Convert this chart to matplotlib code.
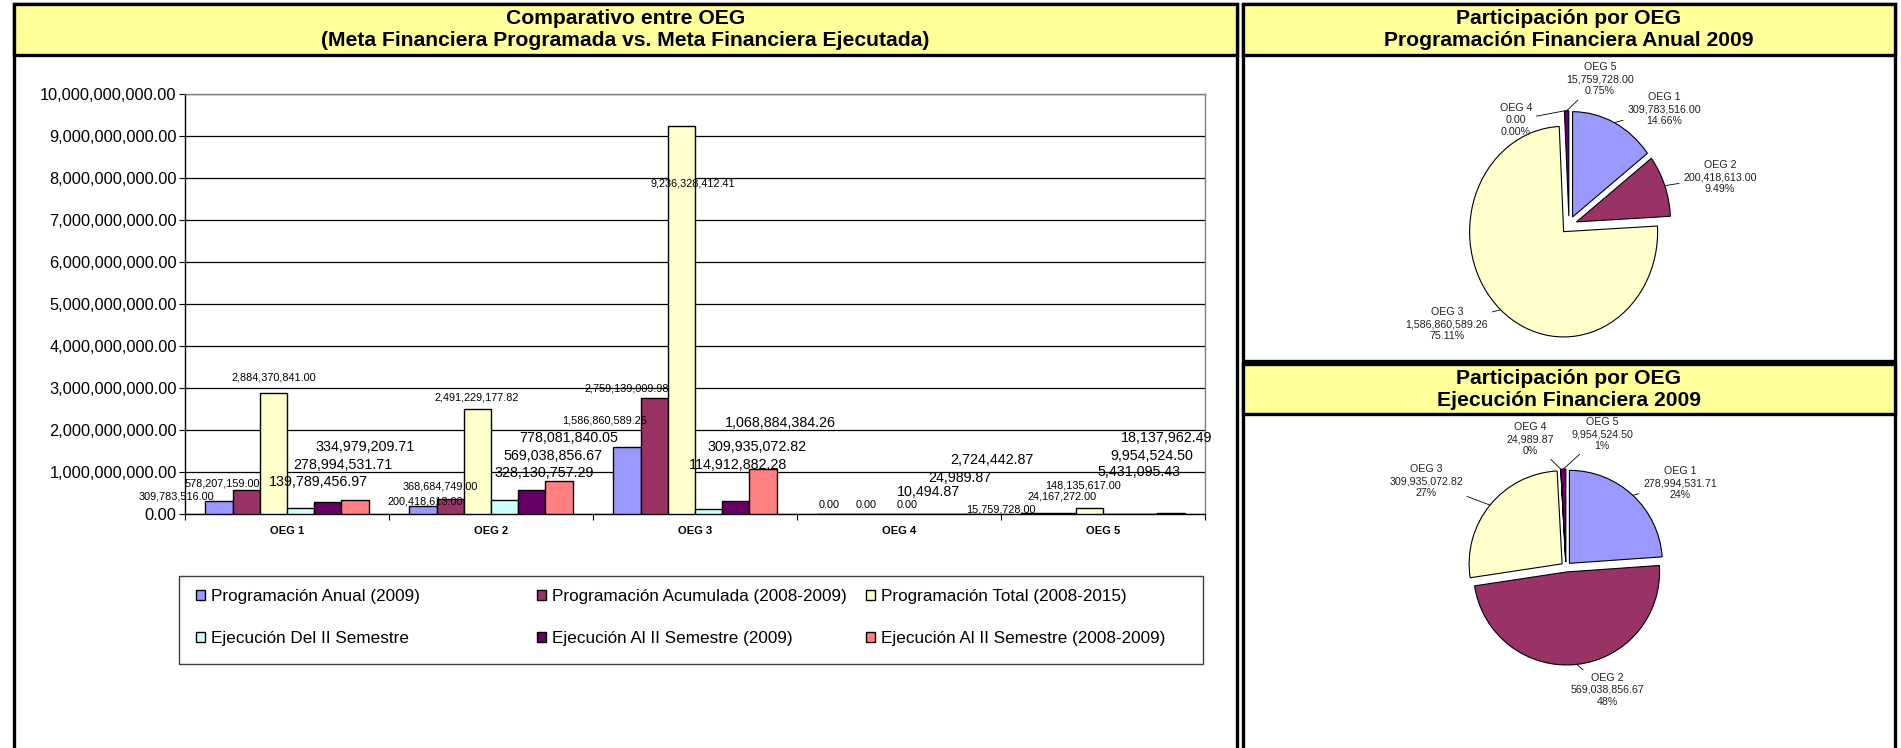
import matplotlib.pyplot as plt
import matplotlib.patches as mpatches
from matplotlib.ticker import FuncFormatter, FixedLocator
import numpy as np

plt.rcParams['font.family'] = ['Liberation Sans', 'DejaVu Sans']

# =============================================================================
# Datos
# =============================================================================
categorias = ['OEG 1', 'OEG 2', 'OEG 3', 'OEG 4', 'OEG 5']

series_nombres = ['Programación Anual (2009)',
                  'Programación Acumulada (2008-2009)',
                  'Programación Total (2008-2015)',
                  'Ejecución Del II Semestre',
                  'Ejecución Al II Semestre (2009)',
                  'Ejecución Al II Semestre (2008-2009)']

prog_anual = [309783516.00, 200418613.00, 1586860589.26, 0.00, 15759728.00]
prog_acumulada = [578207159.00, 368684749.00, 2759139009.98, 0.00, 24167272.00]
prog_total = [2884370841.00, 2491229177.82, 9236328412.41, 0.00, 148135617.00]
ejec_del_ii = [139789456.97, 328130757.29, 114912882.28, 10494.87, 5431095.43]
ejec_al_ii_2009 = [278994531.71, 569038856.67, 309935072.82, 24989.87, 9954524.50]
ejec_al_ii_0809 = [334979209.71, 778081840.05, 1068884384.26, 2724442.87, 18137962.49]

pct_prog = ['14.66%', '9.49%', '75.11%', '0.00%', '0.75%']
pct_ejec = ['24%', '48%', '27%', '0%', '1%']

colores = ['#9999FF', '#993366', '#FFFFCC', '#CCFFFF', '#660066', '#FF8080']

# =============================================================================
# Figura y marcos (coordenadas en pixeles, y hacia abajo)
# =============================================================================
W, H = 1901, 748
fig = plt.figure(figsize=(W / 100, H / 100), dpi=100)

def rect_fig(x0, y0, x1, y1):
    return [x0 / W, (H - y1) / H, (x1 - x0) / W, (y1 - y0) / H]

bg = fig.add_axes([0, 0, 1, 1])
bg.set_xlim(0, W)
bg.set_ylim(H, 0)
bg.axis('off')

amarillo = '#FFFF99'
lw_marco = 2.4
# panel izquierdo
bg.add_patch(mpatches.Rectangle((14, 4), 1223, 800, fc='white', ec='black', lw=lw_marco))
bg.add_patch(mpatches.Rectangle((14, 4), 1223, 51, fc=amarillo, ec='black', lw=lw_marco))
# paneles derechos
bg.add_patch(mpatches.Rectangle((1243, 4), 652, 357, fc='white', ec='black', lw=lw_marco))
bg.add_patch(mpatches.Rectangle((1243, 4), 652, 51, fc=amarillo, ec='black', lw=lw_marco))
bg.add_patch(mpatches.Rectangle((1243, 364), 652, 440, fc='white', ec='black', lw=lw_marco))
bg.add_patch(mpatches.Rectangle((1243, 364), 652, 50, fc=amarillo, ec='black', lw=lw_marco))

tit = dict(ha='center', va='center', fontsize=15.2, fontweight='bold')
bg.text(625.5, 18, 'Comparativo entre OEG', **tit)
bg.text(625.5, 40, '(Meta Financiera Programada vs. Meta Financiera Ejecutada)', **tit)
bg.text(1569, 18, 'Participación por OEG', **tit)
bg.text(1569, 40, 'Programación Financiera Anual 2009', **tit)
bg.text(1569, 378, 'Participación por OEG', **tit)
bg.text(1569, 400, 'Ejecución Financiera 2009', **tit)

# =============================================================================
# Grafico de barras
# =============================================================================
ax = fig.add_axes(rect_fig(185, 94, 1205, 514))
ax.set_facecolor('none')

series = [prog_anual, prog_acumulada, prog_total,
          ejec_del_ii, ejec_al_ii_2009, ejec_al_ii_0809]
x = np.arange(len(categorias))
ancho = 0.8 / len(series)

# desplazamiento de cada etiqueta (pixeles) respecto a la punta de su barra
offsets = [
    [(-43, 4), (2, 4), (-22, 27), (-2, 9), (-34, 4)],
    [(-24, 6), (-10, 12), (-27, 10), (8, 9), (0, 16)],
    [(0, 15), (-1, 12), (11, -57), (22, 9), (-6, 22)],
    [(18, 26), (40, 27), (29, 44), (16, 22), (22, 42)],
    [(15, 37), (21, 34), (21, 54), (20, 36), (8, 58)],
    [(10, 53), (10, 43), (17, 46), (25, 54), (-4, 75)],
]

handles = []
for j, vals in enumerate(series):
    pos = x + (j - (len(series) - 1) / 2) * ancho
    barras = ax.bar(pos, vals, ancho, color=colores[j], edgecolor='black',
                    linewidth=1.0, label=series_nombres[j], zorder=3)
    handles.append(barras)
    for i, b in enumerate(barras):
        v = vals[i]
        fs = 7.8 if (j < 3 or v == 0) else 10.3
        ax.annotate(f'{v:,.2f}', xy=(b.get_x() + b.get_width() / 2, b.get_height()),
                    xytext=offsets[j][i], textcoords='offset pixels',
                    ha='center', va='center', fontsize=fs, zorder=5)

ax.set_xlim(-0.5, len(categorias) - 0.5)
ax.set_ylim(0, 1e10)
ax.yaxis.set_major_locator(FixedLocator(np.arange(0, 1.01e10, 1e9)))
ax.yaxis.set_major_formatter(FuncFormatter(lambda v, p: f'{v:,.2f}'))
ax.tick_params(axis='y', labelsize=11.8, length=4, width=0.8, pad=2)
ax.yaxis.grid(True, color='black', linewidth=0.9, zorder=0)
ax.set_axisbelow(True)

ax.set_xticks(np.arange(-0.5, len(categorias)), minor=False)
ax.set_xticklabels([])
ax.set_xticks(x, minor=True)
ax.set_xticklabels(categorias, minor=True, fontsize=8, fontweight='bold')
ax.tick_params(axis='x', which='major', length=4, width=0.8)
ax.tick_params(axis='x', which='minor', length=0, pad=9)

for s in ['top', 'right']:
    ax.spines[s].set_color('#808080')
    ax.spines[s].set_linewidth(1.0)
for s in ['left', 'bottom']:
    ax.spines[s].set_color('black')
    ax.spines[s].set_linewidth(1.0)

# leyenda: marco y tres columnas
bg.add_patch(mpatches.Rectangle((179, 576), 1024, 88, fc='white', ec='#404040', lw=1.0,
                                zorder=1))
col_x = [196, 537, 866]
for c in range(3):
    idx = [c, c + 3]
    lg = fig.legend([handles[k] for k in idx], [series_nombres[k] for k in idx],
                    loc='center left', bbox_to_anchor=(col_x[c] / W, (H - 617.5) / H),
                    fontsize=12.3, frameon=False, handlelength=0.55, handleheight=0.55,
                    handletextpad=0.35, labelspacing=1.6, borderpad=0, borderaxespad=0)
    for p in lg.get_patches():
        p.set_linewidth(1.0)

# =============================================================================
# Graficos de torta
# =============================================================================
def torta(panel, valores, pcts, centro, radio, expl, k, pos_etq, linesp):
    x0, y0, x1, y1 = panel
    axp = fig.add_axes(rect_fig(x0, y0, x1, y1))
    cx, cy = centro
    wedges, _ = axp.pie(valores, colors=colores[:5], startangle=90, counterclock=False,
                        explode=[expl] * len(valores), radius=radio,
                        center=(cx, (y1 - cy) / k),
                        wedgeprops=dict(edgecolor='black', linewidth=0.8))
    for w, v in zip(wedges, valores):
        if v == 0:
            w.set_linewidth(0)
    axp.set_xlim(x0, x1)
    axp.set_ylim(0, (y1 - y0) / k)
    axp.set_aspect('auto')
    axp.axis('off')
    for n, w in enumerate(wedges):
        tm = np.deg2rad((w.theta1 + w.theta2) / 2)
        px = w.center[0] + w.r * np.cos(tm)
        py = w.center[1] + w.r * np.sin(tm)
        txt = f'{categorias[n]}\n{valores[n]:,.2f}\n{pcts[n]}'
        axp.annotate(txt, xy=(px, py), xytext=pos_etq[n], textcoords=bg.transData,
                     ha='center', va='center', fontsize=7.7, linespacing=linesp,
                     color='#202020',
                     arrowprops=dict(arrowstyle='-', color='black', lw=0.6,
                                     shrinkA=1, shrinkB=0))

torta((1243, 55, 1895, 361), prog_anual, pct_prog, (1569, 225), 94, 8, 1.12,
      [(1664, 109), (1720, 177), (1447, 324), (1516, 120), (1600, 79)], 1.3)
torta((1243, 414, 1895, 748), ejec_al_ii_2009, pct_ejec, (1566, 567), 93, 5, 1.0,
      [(1680, 483), (1607, 690), (1426, 481), (1530, 439), (1602, 434)], 1.2)

fig.savefig('out.png', dpi=100)
